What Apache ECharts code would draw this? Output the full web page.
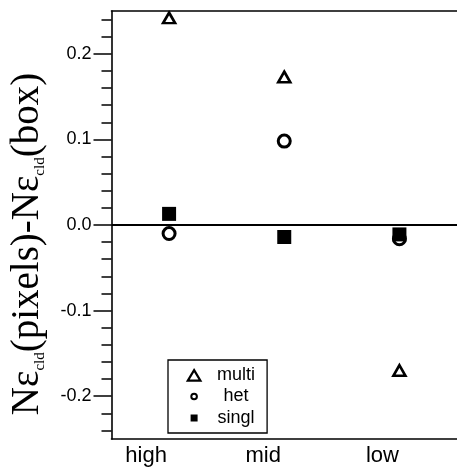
<!DOCTYPE html>
<html>
<head>
<meta charset="utf-8">
<script src="https://cdn.jsdelivr.net/npm/echarts@6/dist/echarts.min.js"></script>
<style>
  html, body { margin: 0; padding: 0; background: #fff; }
  #chart { width: 457px; height: 473px; }
</style>
</head>
<body>
<div id="chart"></div>
<script>
// Cloud-fraction difference by cloud height class
const categories = ['high', 'mid', 'low'];
const multi = [0.242, 0.173, -0.170];
const het = [-0.010, 0.098, -0.016];
const singl = [0.013, -0.014, -0.011];
const yTicks = [-0.2, -0.1, 0.0, 0.1, 0.2];
const yMin = -0.25;
const yMax = 0.25;

// per-label horizontal nudge (right padding shifts the centred label left)
const labelShift = { high: 46, mid: 42, low: 34 };

const sans = 'Liberation Sans, Arial, sans-serif';
const serif = 'Liberation Serif, Times New Roman, serif';

const chart = echarts.init(document.getElementById('chart'), null, { renderer: 'canvas' });

const richX = {};
categories.forEach(c => {
  richX[c] = { fontSize: 22, fontFamily: sans, color: '#000', padding: [0, labelShift[c], 0, 0] };
});

chart.setOption({
  backgroundColor: '#fff',
  animation: false,
  grid: { left: 111, right: -9, top: 11, bottom: 34, containLabel: false },
  xAxis: [
    {
      type: 'category',
      data: categories,
      boundaryGap: true,
      position: 'bottom',
      axisLine: { show: true, onZero: false, lineStyle: { color: '#000', width: 1.6 } },
      axisTick: { show: false },
      axisLabel: {
        margin: 6,
        formatter: v => '{' + v + '|' + v + '}',
        rich: richX
      },
      splitLine: { show: false }
    },
    {
      type: 'category',
      data: categories,
      position: 'top',
      axisLine: { show: true, onZero: false, lineStyle: { color: '#000', width: 1.6 } },
      axisTick: { show: false },
      axisLabel: { show: false },
      splitLine: { show: false }
    }
  ],
  yAxis: {
    type: 'value',
    min: yMin,
    max: yMax,
    axisLine: { show: true, onZero: false, lineStyle: { color: '#000', width: 1.6 } },
    axisTick: {
      show: true, inside: false, length: 18, customValues: yTicks,
      lineStyle: { color: '#000', width: 1.5 }
    },
    minorTick: { show: true, splitNumber: 5, length: 10, lineStyle: { color: '#000', width: 1.5 } },
    axisLabel: {
      customValues: yTicks,
      formatter: v => Number(v).toFixed(1),
      margin: 20,
      fontSize: 18,
      fontFamily: sans,
      color: '#000'
    },
    splitLine: { show: false },
    minorSplitLine: { show: false },
    name: '{m|Nε}{s|cld}{m|(pixels)-Nε}{s|cld}{m|(box)}',
    nameLocation: 'middle',
    nameGap: 64,
    nameTextStyle: {
      color: '#000',
      padding: [0, 38, 0, 0],
      rich: {
        m: { fontSize: 39, fontFamily: serif, color: '#000', lineHeight: 40 },
        s: { fontSize: 15, fontFamily: serif, color: '#000', lineHeight: 18, verticalAlign: 'bottom' }
      }
    }
  },
  legend: {
    orient: 'vertical',
    left: 168,
    top: 360,
    padding: [6, 1, 6, 18],
    itemGap: 3.5,
    itemWidth: 14,
    itemHeight: 14,
    borderColor: '#000',
    borderWidth: 1.3,
    backgroundColor: '#fff',
    selectedMode: false,
    formatter: name => '{c|' + name + '}',
    textStyle: {
      fontSize: 18,
      fontFamily: sans,
      color: '#000',
      lineHeight: 18,
      rich: { c: { width: 60, align: 'center', fontSize: 18, fontFamily: sans, color: '#000' } }
    },
    data: [
      {
        name: 'multi',
        icon: 'path://M0,0M20,20M10,3L19,18L1,18Z',
        itemStyle: { color: '#fff', borderColor: '#000', borderWidth: 2.2 }
      },
      {
        name: 'het',
        icon: 'path://M0,0M20,20M6,10a4,4 0 1,0 8,0a4,4 0 1,0 -8,0Z',
        itemStyle: { color: '#fff', borderColor: '#000', borderWidth: 2 }
      },
      {
        name: 'singl',
        icon: 'path://M0,0M20,20M5,5L15,5L15,15L5,15Z',
        itemStyle: { color: '#000', borderWidth: 0 }
      }
    ]
  },
  series: [
    {
      name: 'multi',
      type: 'scatter',
      data: multi,
      symbol: 'triangle',
      symbolSize: [12, 10.5],
      itemStyle: { color: 'rgba(255,255,255,0)', borderColor: '#000', borderWidth: 2.6, opacity: 1 },
      z: 3
    },
    {
      name: 'singl',
      type: 'scatter',
      data: singl,
      symbol: 'rect',
      symbolSize: 14,
      itemStyle: { color: '#000', opacity: 1 },
      z: 4,
      markLine: {
        silent: true,
        symbol: 'none',
        label: { show: false },
        lineStyle: { color: '#000', width: 2, type: 'solid' },
        data: [{ yAxis: 0 }]
      }
    },
    {
      name: 'het',
      type: 'scatter',
      data: het,
      symbol: 'circle',
      symbolSize: 12,
      itemStyle: { color: 'rgba(255,255,255,0)', borderColor: '#000', borderWidth: 3, opacity: 1 },
      z: 5
    }
  ]
});
</script>
</body>
</html>
